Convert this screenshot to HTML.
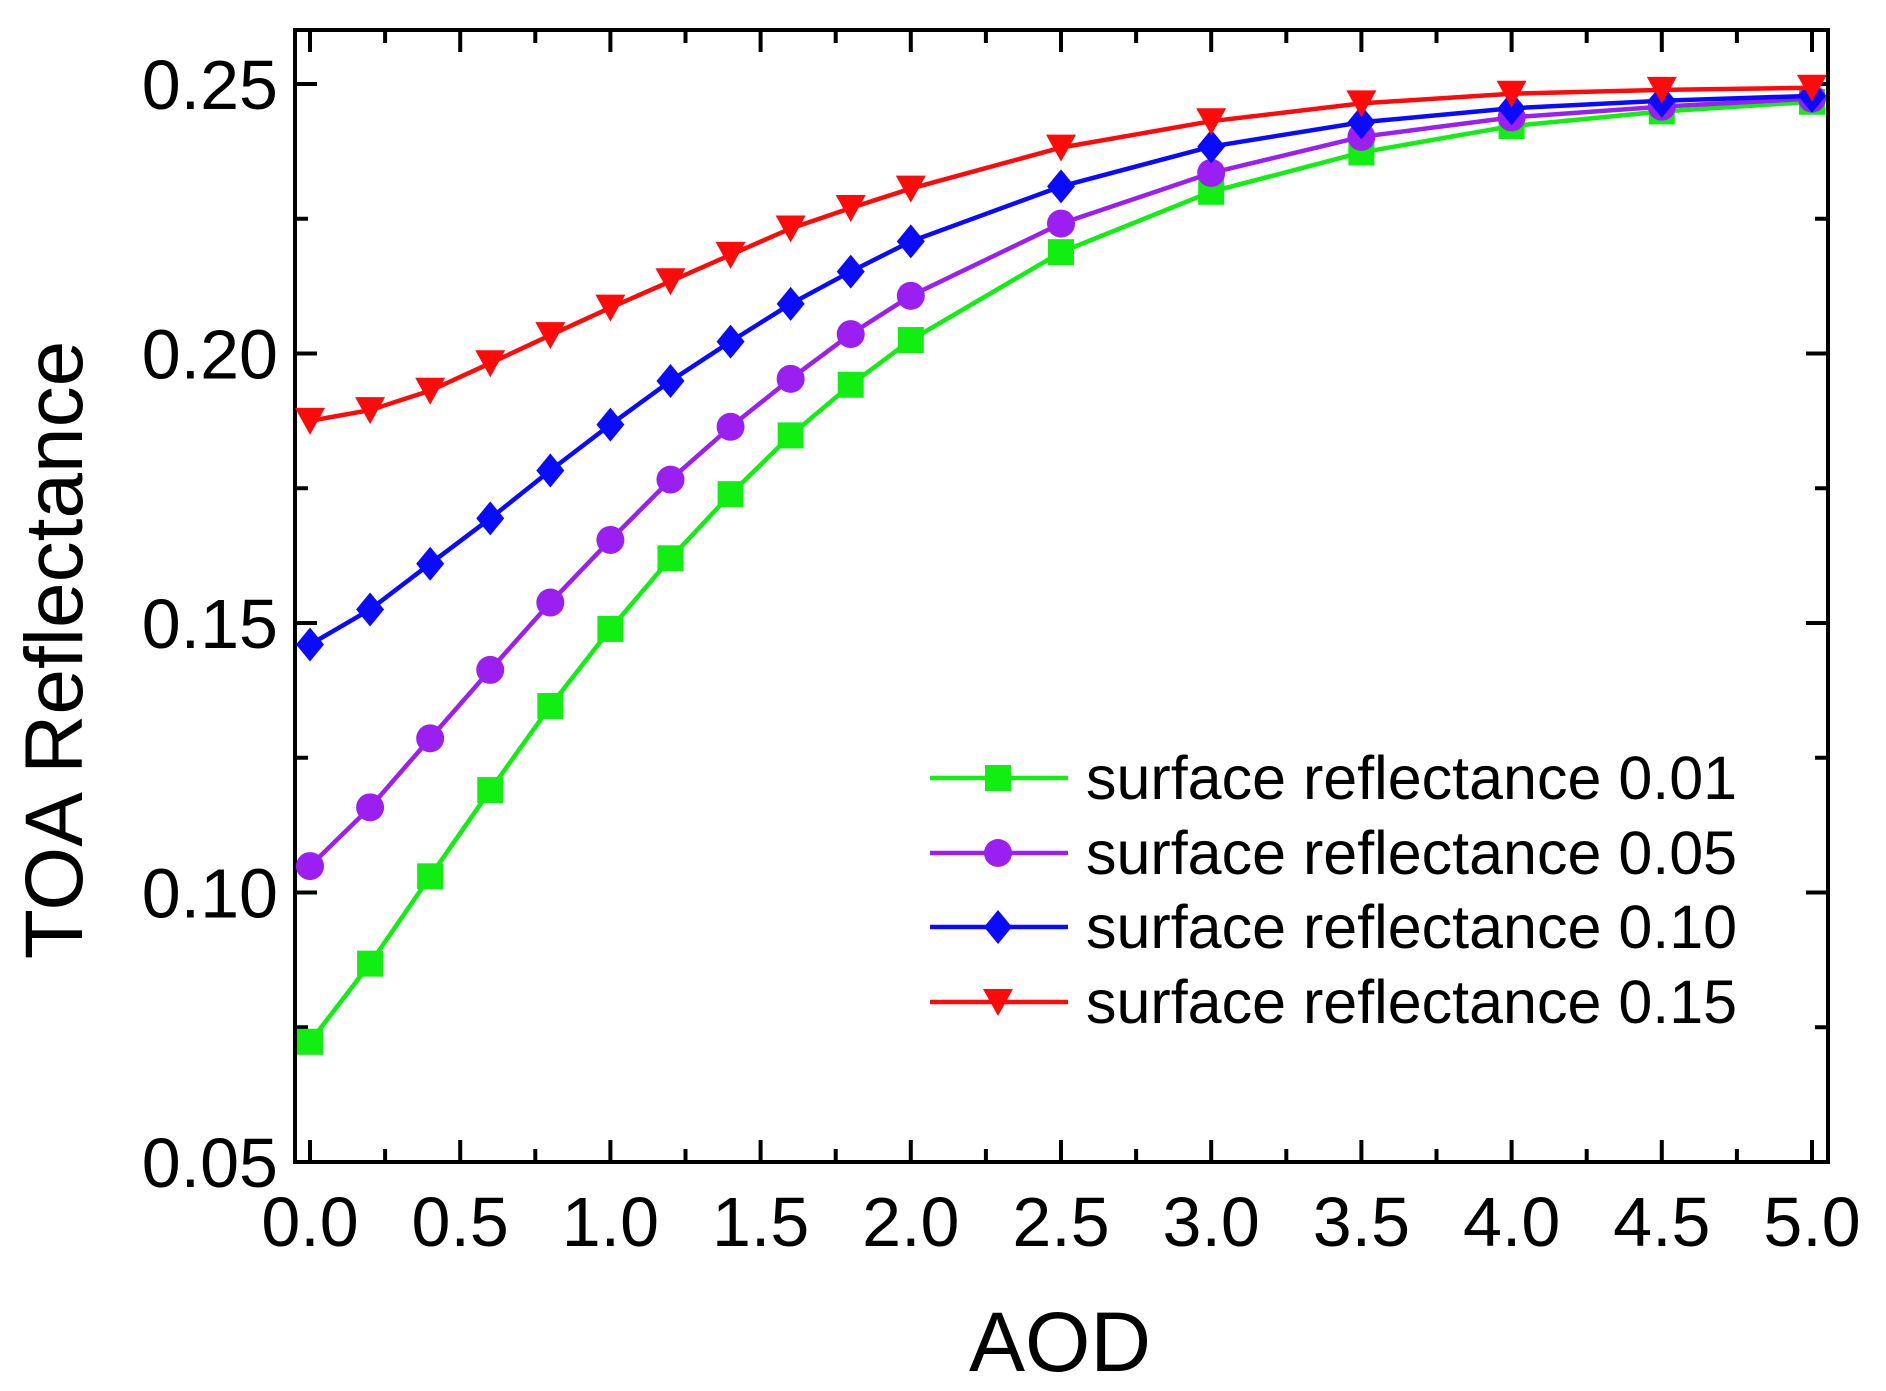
<!DOCTYPE html>
<html><head><meta charset="utf-8"><style>
html,body{margin:0;padding:0;background:#fff;}
svg{display:block;font-family:"Liberation Sans",Arial,sans-serif;}
</style></head><body>
<svg id="chart" width="1886" height="1391" viewBox="0 0 1886 1391">
<g id="grid"></g>
<g id="series"></g>
<g id="legend"></g>
<text x="1060" y="1371" font-size="84" text-anchor="middle">AOD</text>
<text transform="translate(82,650) rotate(-90)" font-size="82" text-anchor="middle">TOA Reflectance</text>
</svg>
<script>
const aod = [0,0.2,0.4,0.6,0.8,1.0,1.2,1.4,1.6,1.8,2.0,2.5,3.0,3.5,4.0,4.5,5.0];
const sr001 = [0.0723,0.0868,0.1030,0.1190,0.1346,0.1489,0.1620,0.1739,0.1848,0.1942,0.2025,0.2188,0.2300,0.2373,0.2422,0.2449,0.2467];
const sr005 = [0.1049,0.1158,0.1286,0.1413,0.1538,0.1654,0.1766,0.1864,0.1953,0.2036,0.2107,0.2241,0.2335,0.2402,0.2438,0.2458,0.2473];
const sr010 = [0.1460,0.1525,0.1610,0.1694,0.1783,0.1868,0.1949,0.2022,0.2092,0.2152,0.2208,0.2310,0.2384,0.2429,0.2455,0.2469,0.2478];
const sr015 = [0.1875,0.1895,0.1931,0.1982,0.2034,0.2085,0.2134,0.2183,0.2232,0.2270,0.2306,0.2382,0.2431,0.2464,0.2482,0.2489,0.2493];
const seriesNames = ["surface reflectance 0.01","surface reflectance 0.05","surface reflectance 0.10","surface reflectance 0.15"];
const xTicks = ["0.0","0.5","1.0","1.5","2.0","2.5","3.0","3.5","4.0","4.5","5.0"];
const yTicks = ["0.05","0.10","0.15","0.20","0.25"];

const NS="http://www.w3.org/2000/svg";
const L=295,R=1828,T=30,B=1162;
const X=v=>310+(v/5)*(1812-310);
const Y=v=>1162-(v-0.05)/0.2*(1162-84);
function mk(tag,attrs,parent){const e=document.createElementNS(NS,tag);for(const k in attrs)e.setAttribute(k,attrs[k]);parent.appendChild(e);return e;}
const g=document.getElementById('grid');
let frame=mk('rect',{x:L,y:T,width:R-L,height:B-T,fill:'none',stroke:'#000','stroke-width':4},g);


for(let i=0;i<=20;i++){
  const v=i*0.25,x=X(v),len=(i%2===0)?22:13;
  const t1=mk('line',{x1:x,y1:B,x2:x,y2:B-len,stroke:'#000','stroke-width':4},g);
  
  
  const t2=mk('line',{x1:x,y1:T,x2:x,y2:T+len,stroke:'#000','stroke-width':4},g);
  
  
}
xTicks.forEach(s=>{
  const t=mk('text',{x:X(parseFloat(s)),y:1246,'font-size':70,'text-anchor':'middle'},g);t.textContent=s;
  
  
});
for(let i=0;i<=8;i++){
  const v=0.05+i*0.025,y=Y(v),len=(i%2===0)?22:13;
  const t1=mk('line',{x1:L,y1:y,x2:L+len,y2:y,stroke:'#000','stroke-width':4},g);
  
  
  const t2=mk('line',{x1:R,y1:y,x2:R-len,y2:y,stroke:'#000','stroke-width':4},g);
  
  
}
yTicks.forEach(s=>{
  const t=mk('text',{x:278,y:Y(parseFloat(s))+25,'font-size':70,'text-anchor':'end'},g);t.textContent=s;
  
  
});
function marker(type,x,y,color,parent){
  let e;const s=13;
  if(type==='square') e=mk('rect',{x:x-s,y:y-s,width:2*s,height:2*s,fill:color},parent);
  else if(type==='circle') e=mk('circle',{cx:x,cy:y,r:s+1,fill:color},parent);
  else if(type==='diamond') e=mk('polygon',{points:`${x},${y-17} ${x+14},${y} ${x},${y+17} ${x-14},${y}`,fill:color},parent);
  else e=mk('polygon',{points:`${x-15},${y-13} ${x+15},${y-13} ${x},${y+14}`,fill:color},parent);
  return e;
}
const all=[sr001,sr005,sr010,sr015];
const colors=['#11ee11','#9b1ff0','#0a0aff','#ff0a0a'];
const types=['square','circle','diamond','triangle'];
const sg=document.getElementById('series');
all.forEach((vals,k)=>{
  const grp=mk('g',{},sg);
  
  
  const pl=mk('polyline',{points:vals.map((v,i)=>X(aod[i])+','+Y(v)).join(' '),fill:'none',stroke:colors[k],'stroke-width':4.5},grp);
  
  
  vals.forEach((v,i)=>{
    const m=marker(types[k],X(aod[i]),Y(v),colors[k],grp);
    
    
  });
});
const lg=document.getElementById('legend');
const rowsY=[778,853,927,1002];
seriesNames.forEach((n,k)=>{
  const e=mk('g',{},lg);
  
  
  mk('line',{x1:930,y1:rowsY[k],x2:1068,y2:rowsY[k],stroke:colors[k],'stroke-width':4.5},e);
  marker(types[k],998,rowsY[k],colors[k],e);
  const t=mk('text',{x:1086,y:rowsY[k]+21,'font-size':61},e);t.textContent=n;
});
</script>
</body></html>
